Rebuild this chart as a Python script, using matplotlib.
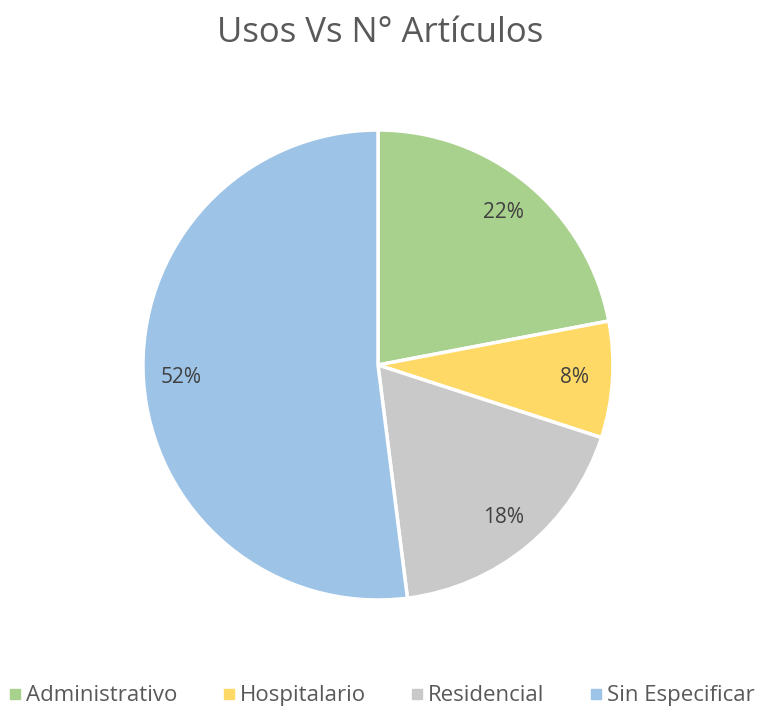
import matplotlib
matplotlib.use("Agg")
import matplotlib.pyplot as plt
from matplotlib.lines import Line2D

categories = ["Administrativo", "Hospitalario", "Residencial", "Sin Especificar"]
values = [22, 8, 18, 52]
colors = ["#A9D18E", "#FFD966", "#C9C9C9", "#9DC3E6"]

plt.rcParams['font.family'] = ['Open Sans', 'DejaVu Sans']
text_color = "#595959"

fig = plt.figure(figsize=(7.61, 7.10), dpi=100)
ax = fig.add_axes([0.1879, 0.1549, 0.6176, 0.662])
wedges, texts, autotexts = ax.pie(
    values, colors=colors, startangle=90, counterclock=False,
    autopct=lambda p: f"{p:.0f}%", pctdistance=0.84,
    wedgeprops=dict(edgecolor="white", linewidth=2.5),
    textprops=dict(color="#404040", fontsize=15),
)
ax.set_xlim(-1, 1)
ax.set_ylim(-1, 1)
ax.set_aspect("equal")

fig.text(0.5, 0.953, "Usos Vs N° Artículos", ha="center", va="center",
         fontsize=25, color=text_color)

handles = [Line2D([0], [0], marker="s", linestyle="none", markersize=7,
                  markerfacecolor=c, markeredgecolor=c) for c in colors]
leg = fig.legend(handles, categories, loc="center", bbox_to_anchor=(0.5, 0.02),
                 ncol=4, frameon=False, fontsize=16, handletextpad=0.1,
                 columnspacing=1.9, handlelength=0.8)
for t in leg.get_texts():
    t.set_color(text_color)

fig.savefig("out.png", dpi=100)
